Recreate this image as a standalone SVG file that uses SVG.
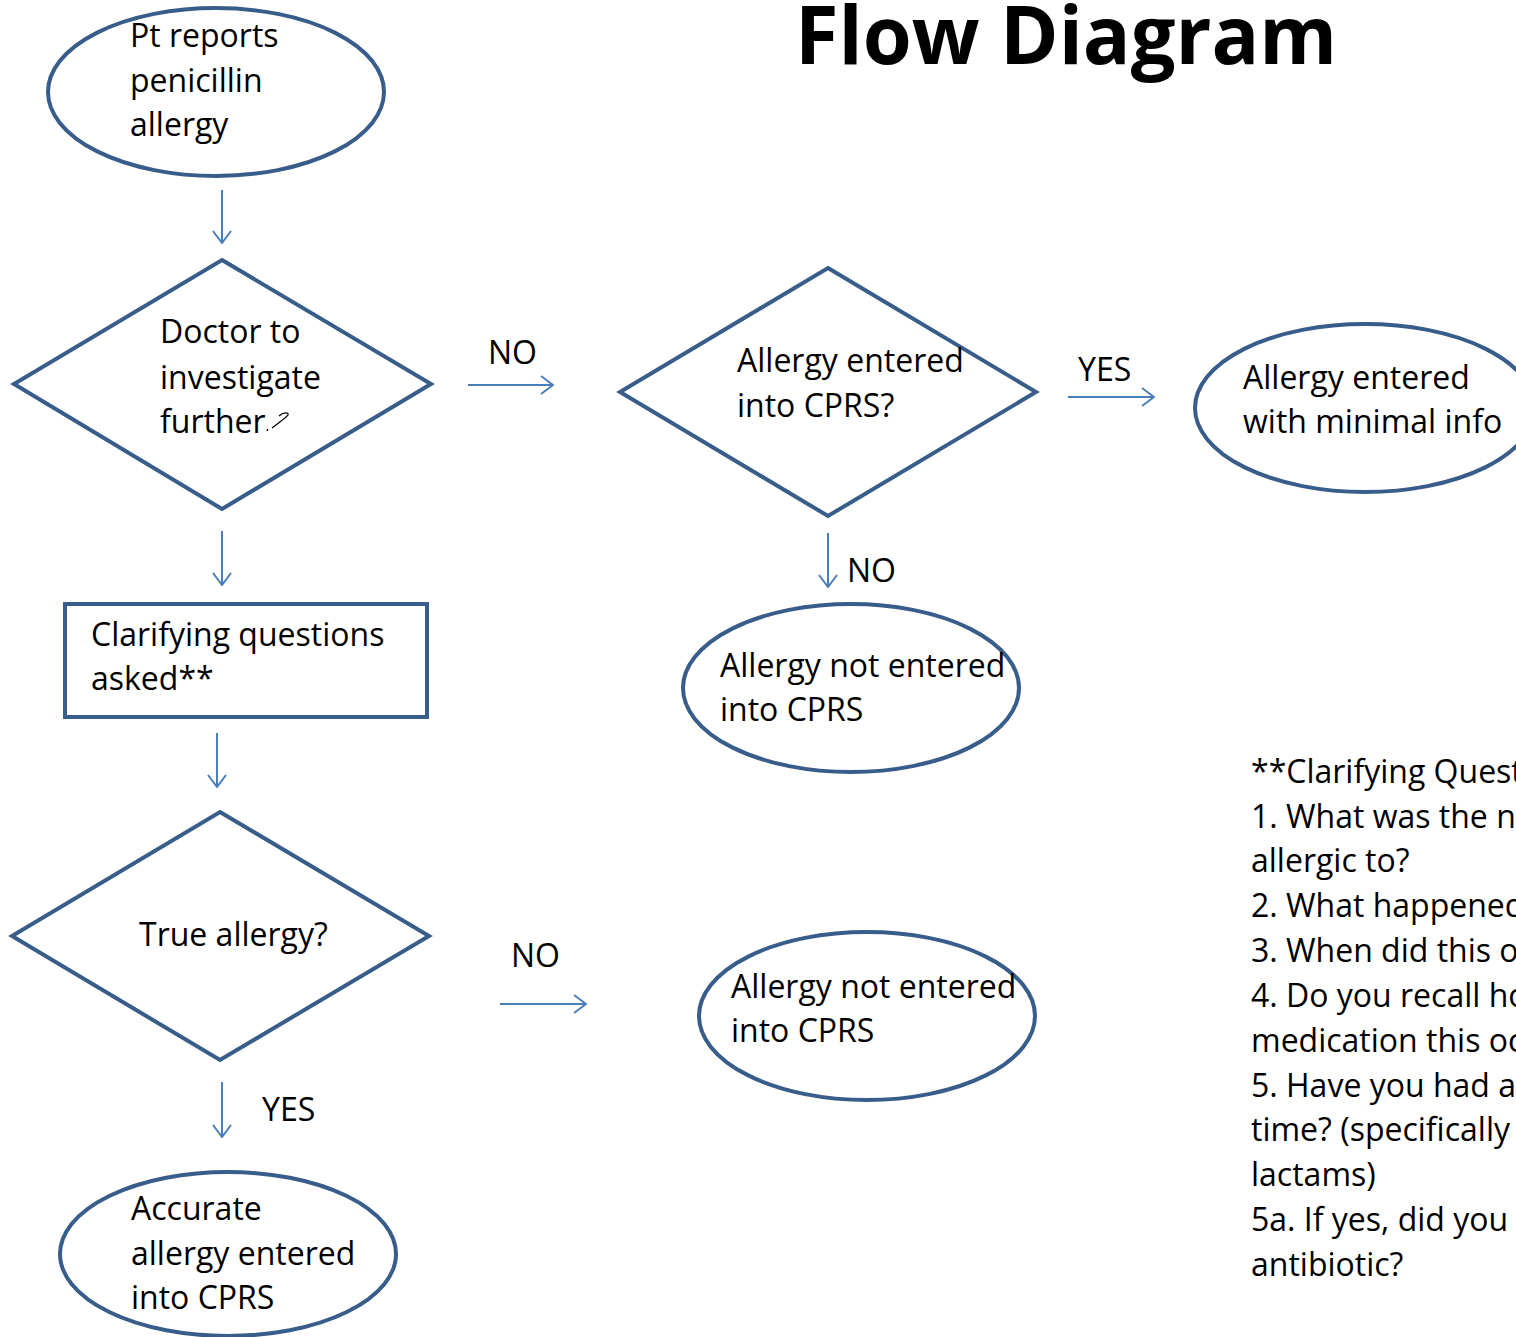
<svg xmlns="http://www.w3.org/2000/svg" width="1516" height="1337" viewBox="0 0 1516 1337">
<style>
.shape{fill:none;stroke:#385D8A;stroke-width:4}
.t{font-family:"Open Sans","Liberation Sans",sans-serif;font-size:32px;fill:#000}
.title{font-family:"Open Sans","Liberation Sans",sans-serif;font-size:80px;font-weight:bold;fill:#000}
.conn line{stroke:#4A7EBB;stroke-width:2;marker-end:url(#arr)}
</style>
<defs>
<marker id="arr" viewBox="0 0 14 20" refX="13" refY="10" markerWidth="14" markerHeight="20" markerUnits="userSpaceOnUse" orient="auto">
<path d="M1,1 L13,10 L1,19" fill="none" stroke="#4A7EBB" stroke-width="2"/>
</marker>
</defs>
<rect width="1516" height="1337" fill="#fff"/>
<text class="title" x="795" y="64" textLength="542" lengthAdjust="spacingAndGlyphs">Flow Diagram</text>

<g id="n1"><ellipse class="shape" cx="216" cy="92" rx="168" ry="84"/>
<text class="t" x="130" y="47">Pt reports</text><text class="t" x="130" y="92">penicillin</text><text class="t" x="130" y="136">allergy</text></g>

<g id="n2"><polygon class="shape" points="222,260 431,384 222,509 14,384"/>
<text class="t" x="160" y="343">Doctor to</text><text class="t" x="160" y="389">investigate</text><text class="t" x="160" y="433">further</text>
<path d="M267,431 L268,429 M272,428 C278,423 286,418 288,415 C289,412 283,412 279,416" fill="none" stroke="#000" stroke-width="1.3"/></g>

<g id="n3"><rect class="shape" x="65" y="604" width="362" height="113"/>
<text class="t" x="91" y="646">Clarifying questions</text><text class="t" x="91" y="690">asked**</text></g>

<g id="n4"><polygon class="shape" points="220,812 429,936 220,1060 12,936"/>
<text class="t" x="139" y="946">True allergy?</text></g>

<g id="n5"><ellipse class="shape" cx="228" cy="1254" rx="168" ry="82"/>
<text class="t" x="131" y="1220">Accurate</text><text class="t" x="131" y="1265">allergy entered</text><text class="t" x="131" y="1309">into CPRS</text></g>

<g id="n6"><ellipse class="shape" cx="867" cy="1016" rx="168" ry="84"/>
<text class="t" x="731" y="998">Allergy not entered</text><text class="t" x="731" y="1042">into CPRS</text></g>

<g id="n7"><polygon class="shape" points="828,268 1036,392 828,516 620,392"/>
<text class="t" x="737" y="372">Allergy entered</text><text class="t" x="737" y="417">into CPRS?</text></g>

<g id="n8"><ellipse class="shape" cx="1365" cy="408" rx="170" ry="84"/>
<text class="t" x="1243" y="389">Allergy entered</text><text class="t" x="1243" y="433">with minimal info</text></g>

<g id="n9"><ellipse class="shape" cx="851" cy="688" rx="168" ry="84"/>
<text class="t" x="720" y="677">Allergy not entered</text><text class="t" x="720" y="721">into CPRS</text></g>

<g id="notes">
<text class="t" x="1251" y="783">**Clarifying Questions</text>
<text class="t" x="1251" y="828">1. What was the name</text>
<text class="t" x="1251" y="872">allergic to?</text>
<text class="t" x="1251" y="917">2. What happened?</text>
<text class="t" x="1251" y="962">3. When did this occur?</text>
<text class="t" x="1251" y="1007">4. Do you recall how</text>
<text class="t" x="1251" y="1052">medication this occurred?</text>
<text class="t" x="1251" y="1097">5. Have you had any</text>
<text class="t" x="1251" y="1141">time? (specifically</text>
<text class="t" x="1251" y="1186">lactams)</text>
<text class="t" x="1251" y="1231">5a. If yes, did you</text>
<text class="t" x="1251" y="1276">antibiotic?</text>
</g>

<g id="connectors" class="conn">
<line x1="222" y1="190" x2="222" y2="243"/>
<line x1="468" y1="385" x2="553" y2="385"/>
<line x1="222" y1="531" x2="222" y2="585"/>
<line x1="217" y1="733" x2="217" y2="787"/>
<line x1="222" y1="1082" x2="222" y2="1137"/>
<line x1="500" y1="1004" x2="586" y2="1004"/>
<line x1="1068" y1="397" x2="1154" y2="397"/>
<line x1="828" y1="533" x2="828" y2="587"/>
</g>
<g id="labels">
<text class="t" x="488" y="364">NO</text>
<text class="t" x="511" y="967">NO</text>
<text class="t" x="262" y="1121">YES</text>
<text class="t" x="1078" y="381">YES</text>
<text class="t" x="847" y="582">NO</text>
</g>
</svg>
